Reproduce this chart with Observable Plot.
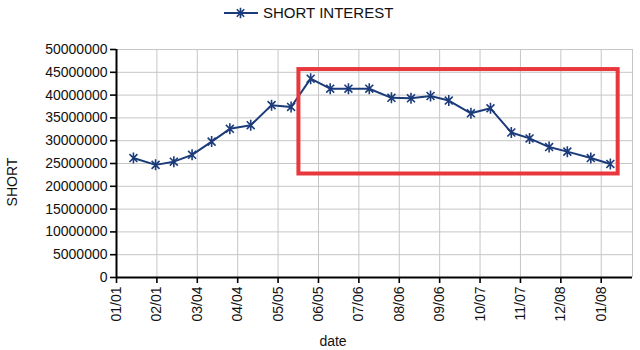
<!DOCTYPE html>
<html><head><meta charset="utf-8">
<script src="https://cdn.jsdelivr.net/npm/d3@7"></script>
<script src="https://cdn.jsdelivr.net/npm/@observablehq/plot@0.6"></script>
<style>
body{margin:0;background:#fff;font-family:"Liberation Sans",Arial,sans-serif;}
#wrap{position:relative;width:640px;height:350px;overflow:hidden;}
#legend{position:absolute;top:4px;left:224px;display:flex;align-items:center;font-size:15px;color:#111;line-height:18px;}
#legend svg{margin-right:5px;}
#ylab{position:absolute;left:12px;top:182px;transform:translate(-50%,-50%) rotate(-90deg);font-size:14px;color:#111;white-space:nowrap;}
#xlab{position:absolute;left:333px;top:341px;transform:translate(-50%,-50%);font-size:14px;color:#111;}
</style></head><body>
<div id="wrap">
  <div id="chart"></div>
  <div id="legend"><svg width="34" height="14"><line x1="0" y1="7" x2="34" y2="7" stroke="#1b3b7b" stroke-width="2"/><path d="M12.8,3.2L20.2,10.8M20.2,3.2L12.8,10.8M16.5,1.8L16.5,12.2" stroke="#1b3b7b" stroke-width="1.6" fill="none"/></svg><span>SHORT INTEREST</span></div>
  <div id="ylab">SHORT</div>
  <div id="xlab">date</div>
</div>
<script>
const seriesName = "SHORT INTEREST";
const dates = ["2007-01-14","2007-01-31","2007-02-14","2007-02-28","2007-03-15","2007-03-29","2007-04-14","2007-04-30","2007-05-15","2007-05-30","2007-06-14","2007-06-28","2007-07-14","2007-07-31","2007-08-15","2007-08-30","2007-09-13","2007-09-30","2007-10-15","2007-10-31","2007-11-14","2007-11-29","2007-12-13","2007-12-31","2008-01-15"];
const shortInterest = [26200000,24700000,25400000,26900000,29800000,32600000,33400000,37800000,37400000,43600000,41400000,41400000,41400000,39400000,39300000,39800000,38800000,36000000,37100000,31800000,30500000,28600000,27600000,26200000,24900000];
const xTickDates = ["2007-01-01","2007-02-01","2007-03-04","2007-04-04","2007-05-05","2007-06-05","2007-07-06","2007-08-06","2007-09-06","2007-10-07","2007-11-07","2007-12-08","2008-01-08"];
const xDomainDates = ["2007-01-01","2008-02-01"];
const yTicks = [0,5000000,10000000,15000000,20000000,25000000,30000000,35000000,40000000,45000000,50000000];
const highlightBox = {x1:"2007-05-21", x2:"2008-01-21", y1:22700000, y2:45600000};

const parse = d3.utcParse("%Y-%m-%d");
const data = dates.map((d,i)=>({date: parse(d), value: shortInterest[i]}));
const xTicks = xTickDates.map(parse);
const xDomain = xDomainDates.map(parse);
const box = [{x1: parse(highlightBox.x1), x2: parse(highlightBox.x2), y1: highlightBox.y1, y2: highlightBox.y2}];

const star = {
  draw(ctx, size){
    const r = Math.sqrt(size/Math.PI);
    const a = r*0.72;
    ctx.moveTo(-a,-a); ctx.lineTo(a,a);
    ctx.moveTo(a,-a); ctx.lineTo(-a,a);
    ctx.moveTo(0,-r); ctx.lineTo(0,r);
  }
};
const navy = "#1b3b7b";
const grid = "#c6c6c6";

const chart = Plot.plot({
  width: 640, height: 350,
  marginLeft: 116, marginRight: 8, marginTop: 49, marginBottom: 73,
  style: {fontFamily: '"Liberation Sans", Arial, sans-serif', fontSize: "14px", color: "#111", background: "transparent", overflow: "visible"},
  x: {type: "utc", domain: xDomain},
  y: {domain: [0, 50000000]},
  marks: [
    Plot.gridY(yTicks, {stroke: grid, strokeOpacity: 1}),
    Plot.gridX(xTicks, {stroke: grid, strokeOpacity: 1}),
    Plot.ruleX([xDomain[1]], {stroke: grid}),
    Plot.axisY(yTicks, {tickFormat: d => String(d), tickSize: 6, tickPadding: 3, fontSize: 14, label: null, stroke: "#000", strokeWidth: 1.6}),
    Plot.axisX(xTicks, {tickFormat: d3.utcFormat("%m/%d"), tickRotate: -90, tickSize: 6, tickPadding: 3, fontSize: 14, label: null, stroke: "#000", strokeWidth: 1.6}),
    Plot.ruleX([xDomain[0]], {stroke: "#000", strokeWidth: 2}),
    Plot.ruleY([0], {stroke: "#000", strokeWidth: 2}),
    Plot.line(data, {x: "date", y: "value", stroke: navy, strokeWidth: 2}),
    Plot.dot(data, {x: "date", y: "value", symbol: star, r: 5.5, stroke: navy, strokeWidth: 1.6, fill: "none"}),
    Plot.rect(box, {x1: "x1", x2: "x2", y1: "y1", y2: "y2", fill: "none", stroke: "#e8383d", strokeWidth: 4})
  ]
});
document.getElementById("chart").appendChild(chart);
</script>
</body></html>
